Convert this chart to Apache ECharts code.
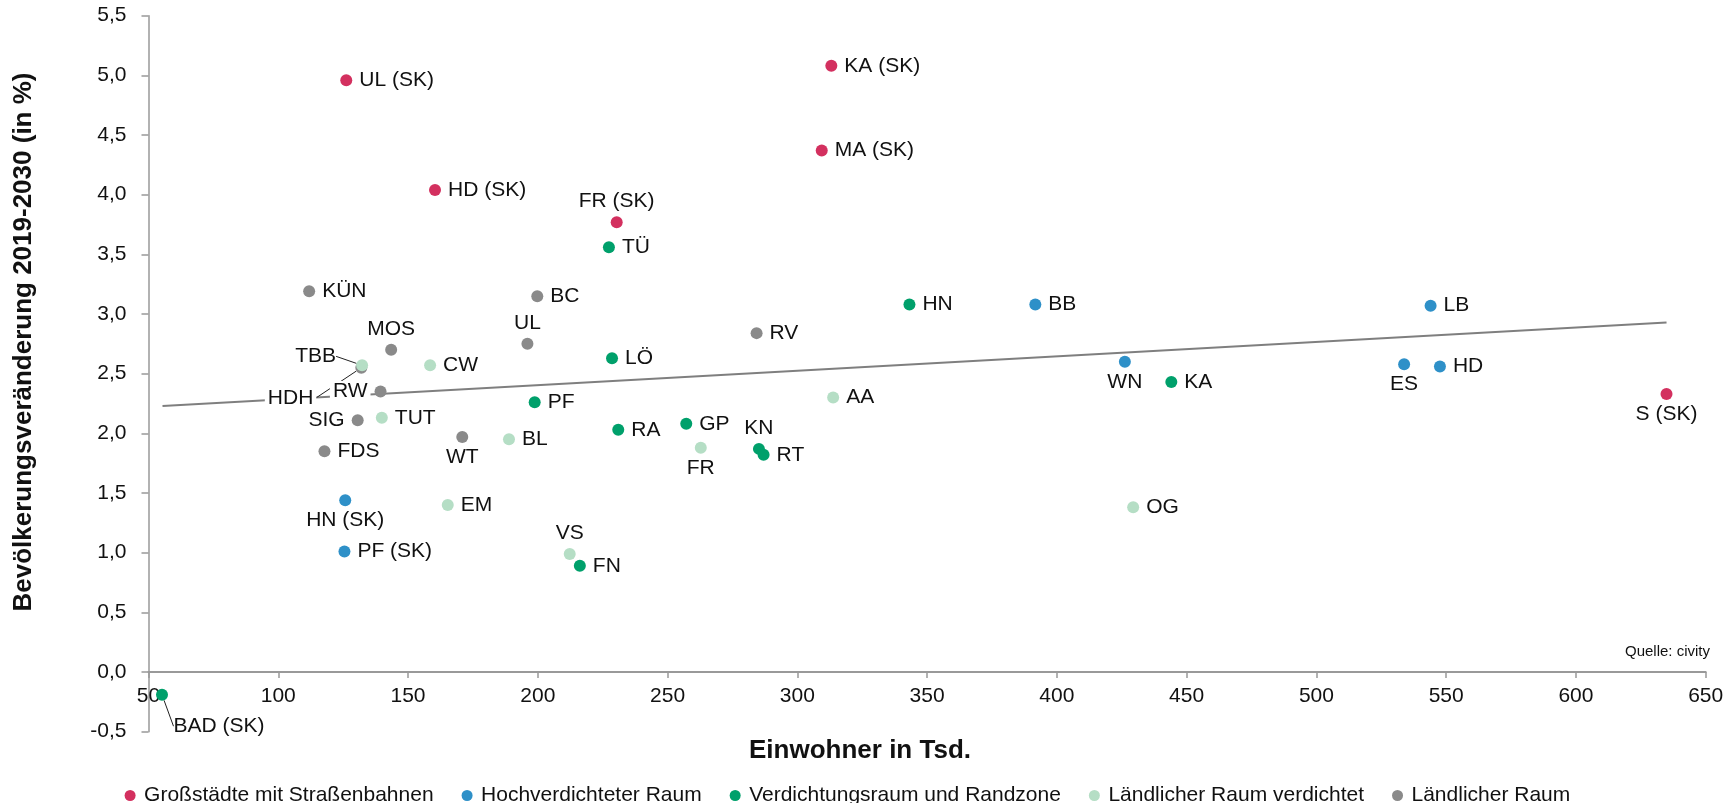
<!DOCTYPE html>
<html><head><meta charset="utf-8">
<script src="https://cdn.jsdelivr.net/npm/echarts@6/dist/echarts.min.js"></script>
<style>html,body{margin:0;padding:0;background:#fff}#c{width:1736px;height:803px}</style>
</head><body><div id="c"></div>
<script>
const seriesNames = ['Großstädte mit Straßenbahnen','Hochverdichteter Raum','Verdichtungsraum und Randzone','Ländlicher Raum verdichtet','Ländlicher Raum'];

const grossNames = ['UL (SK)','KA (SK)','MA (SK)','HD (SK)','FR (SK)','S (SK)'];
const grossX = [126.2, 313.1, 309.4, 160.4, 230.4, 634.9];
const grossY = [4.96, 5.08, 4.37, 4.04, 3.77, 2.33];

const hochNames = ['HN (SK)','PF (SK)','BB','LB','WN','ES','HD'];
const hochX = [125.8, 125.5, 391.7, 544.0, 426.2, 533.8, 547.6];
const hochY = [1.44, 1.01, 3.08, 3.07, 2.60, 2.58, 2.56];

const verdNames = ['BAD (SK)','TÜ','HN','LÖ','KA','PF','GP','RA','KN','RT','FN'];
const verdX = [55.2, 227.4, 343.2, 228.6, 444.1, 198.8, 257.2, 231.0, 285.2, 287.0, 216.2];
const verdY = [-0.19, 3.56, 3.08, 2.63, 2.43, 2.26, 2.08, 2.03, 1.87, 1.82, 0.89];

const laendVerdNames = ['TBB','CW','AA','TUT','BL','FR','EM','OG','VS'];
const laendVerdX = [132.3, 158.5, 313.8, 139.9, 188.9, 262.8, 165.3, 429.4, 212.3];
const laendVerdY = [2.57, 2.57, 2.30, 2.13, 1.95, 1.88, 1.40, 1.38, 0.99];

const laendNames = ['KÜN','BC','RV','UL','MOS','HDH','RW','SIG','WT','FDS'];
const laendX = [111.9, 199.8, 284.3, 196.0, 143.5, 132.0, 139.4, 130.6, 170.9, 117.8];
const laendY = [3.19, 3.15, 2.84, 2.75, 2.70, 2.55, 2.35, 2.11, 1.97, 1.85];

const trendX = [55.4, 634.9];
const trendY = [2.23, 2.93];

const xRange = [50, 650, 50];
const yRange = [-0.5, 5.5, 0.5];

const xTitle = 'Einwohner in Tsd.';
const yTitle = 'Bevölkerungsveränderung 2019-2030 (in %)';
const sourceNote = 'Quelle: civity';

// ---- styling / layout (not data) ----
const FONT = '"Liberation Sans", Arial, sans-serif';
const TXT = '#111111';
const AX = '#999999';
const colors = ['#D3305F', '#2E90C8', '#00A06B', '#B5DEC5', '#8A8A8A'];
const GRID = {left:148.5, right:30.3, top:15.7, bottom:71.3};
const plotH = 803 - GRID.top - GRID.bottom;
// x axis sits where y = 0: shift it up from the bottom edge by the share of the y range below 0
const xAxisShift = -plotH * (0 - yRange[0]) / (yRange[1] - yRange[0]);

const labelPlacement = {
  'FR (SK)':'top','UL':'top','MOS':'top','KN':'top','VS':'top',
  'S (SK)':'bottom','HN (SK)':'bottom','WN':'bottom','ES':'bottom','WT':'bottom','FR':'bottom','BAD (SK)':'bottom',
  'SIG':'left','RW':'left','TBB':'left','HDH':'left'
};
const labelShift = { 'TBB':[-13,-9], 'HDH':[-35,30], 'BAD (SK)':[57,11] };
const labelMask = { 'HDH':true, 'RW':true };

function buildData(names, xs, ys){
  return names.map((n,i)=>{
    const pos = labelPlacement[n] || 'right';
    const lab = {show:true, position:pos, distance:(pos==='top'||pos==='bottom')?4:7};
    if (labelMask[n]) { lab.backgroundColor = '#ffffff'; lab.padding = [0,3]; lab.distance = 4; }
    const item = {name:n, value:[xs[i], ys[i]], label:lab};
    if (labelShift[n]) item.labelLine = {show:true, lineStyle:{color:'#222', width:1}};
    return item;
  });
}

function scatter(idx, names, xs, ys, z){
  return {
    name: seriesNames[idx], type:'scatter', symbol:'circle', symbolSize:12, z:z,
    itemStyle:{color:colors[idx], opacity:1},
    label:{show:true, formatter:'{b}', color:TXT, fontSize:21, fontFamily:FONT},
    labelLine:{show:false},
    labelLayout:function(p){ const s = labelShift[names[p.dataIndex]]; return s ? {dx:s[0], dy:s[1]} : {}; },
    data: buildData(names, xs, ys)
  };
}

const chart = echarts.init(document.getElementById('c'), null, {renderer:'canvas'});
chart.setOption({
  animation:false,
  backgroundColor:'#ffffff',
  textStyle:{fontFamily:FONT},
  grid:{left:GRID.left, right:GRID.right, top:GRID.top, bottom:GRID.bottom, containLabel:false},
  xAxis:{
    type:'value', min:xRange[0], max:xRange[1], interval:xRange[2],
    offset:xAxisShift,
    axisLine:{show:true, onZero:false, lineStyle:{color:AX, width:2}},
    axisTick:{show:true, length:6, lineStyle:{color:AX, width:1.5}},
    axisLabel:{fontSize:21, color:TXT, margin:14, fontFamily:FONT},
    splitLine:{show:false}
  },
  yAxis:{
    type:'value', min:yRange[0], max:yRange[1], interval:yRange[2],
    axisLine:{show:true, onZero:false, lineStyle:{color:AX, width:1.5}},
    axisTick:{show:true, length:7, lineStyle:{color:AX, width:1.5}},
    axisLabel:{fontSize:21, color:TXT, margin:22, fontFamily:FONT, formatter:v=>v.toFixed(1).replace('.',',')},
    splitLine:{show:false}
  },
  legend:{
    data:seriesNames, left:119.6, top:780, icon:'circle', itemWidth:18, itemHeight:11, itemGap:28,
    textStyle:{fontSize:21, color:TXT, fontFamily:FONT}, selectedMode:false
  },
  graphic:[
    {type:'text', x:24, y:342, rotation:Math.PI/2, silent:true,
      style:{text:yTitle, font:'bold 26px '+FONT, fill:TXT, align:'center', verticalAlign:'middle', textAlign:'center', textVerticalAlign:'middle'}},
    {type:'text', x:860, y:751, silent:true,
      style:{text:xTitle, font:'bold 26px '+FONT, fill:TXT, align:'center', verticalAlign:'middle', textAlign:'center', textVerticalAlign:'middle'}},
    {type:'text', x:1710, y:651.5, silent:true,
      style:{text:sourceNote, font:'15px '+FONT, fill:TXT, align:'right', verticalAlign:'middle', textAlign:'right', textVerticalAlign:'middle'}}
  ],
  series:[
    {name:'Trend', type:'line', z:1, silent:true, symbol:'none', legendHoverLink:false,
      lineStyle:{color:'#7f7f7f', width:2}, data:trendX.map((x,i)=>[x, trendY[i]])},
    scatter(0, grossNames, grossX, grossY, 2),
    scatter(1, hochNames, hochX, hochY, 2),
    scatter(2, verdNames, verdX, verdY, 2),
    scatter(3, laendVerdNames, laendVerdX, laendVerdY, 4),
    scatter(4, laendNames, laendX, laendY, 3)
  ]
});
</script>
</body></html>
